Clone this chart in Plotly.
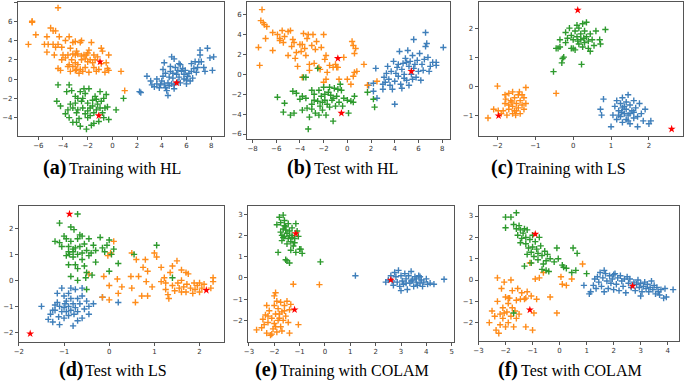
import plotly.graph_objects as go

W, H = 685, 381

# ---------------- data ----------------
# (a) Training with HL
a_orange = [(-4.4,7.4),(-6.5,6.0),(-6.5,5.9),(-6.2,4.6),(-6.8,3.6),(-5.0,5.3),(-4.8,5.0),(-4.6,5.0),(-5.3,4.4),(-4.3,4.4),
            (-5.5,3.6),(-5.2,3.6),(-4.8,3.6),(-4.4,3.6),(-3.5,4.4),(-3.8,4.0),(-4.6,3.3),(-4.1,3.3),(-4.0,2.5),(-5.3,2.8),
            (-4.7,2.5),(-4.4,1.1),(-4.2,0.9),(-3.6,1.3),(-3.4,0.8),(-3.0,3.9),(-3.2,3.8),(-2.5,4.0),(-2.6,3.8),(-1.7,3.8),
            (-3.6,2.5),(-3.2,2.6),(-3.0,2.5),(-2.8,2.6),(-2.5,2.4),(-2.3,2.5),(-2.0,2.7),(-1.9,3.0),(-3.3,2.0),(-3.0,1.7),
            (-2.8,1.5),(-2.5,2.0),(-2.2,2.1),(-2.0,1.8),(-1.8,2.0),(-1.6,1.7),(-1.4,2.0),(-1.2,2.3),(-3.5,1.5),(-3.2,1.3),
            (-2.9,1.0),(-2.6,1.0),(-2.4,0.8),(-2.2,1.2),(-1.9,0.7),(-1.5,1.2),(-1.3,0.8),(-0.9,3.2),(-0.8,2.9),(-0.9,1.6),
            (-0.5,1.7),(-0.4,1.1),(-0.3,0.9),(-0.3,2.5),(-0.6,0.7),(0.7,0.8),(1.0,-1.2),(-3.0,0.9),(-2.7,0.6),(-4.1,2.0),
            (-3.8,2.2),(-2.9,2.9),(-1.5,2.5),(-1.1,1.0),(-2.1,2.5),(-3.4,3.2)]
a_blue = [(2.2,-1.3),(2.3,-1.4),(2.8,0.3),(3.1,-0.2),(3.2,-0.6),(3.4,-0.8),(3.6,-0.5),(3.8,-0.9),(3.9,-0.6),(4.0,-0.2),
          (4.1,0.3),(4.1,1.0),(4.2,1.7),(4.3,0.6),(4.3,-0.9),(4.4,-1.2),(4.5,-1.7),(4.5,-0.4),(4.6,0.2),(4.7,0.8),
          (4.7,1.3),(4.8,-0.5),(4.8,2.3),(4.9,0.1),(5.0,2.1),(5.0,-1.0),(5.1,1.2),(5.2,0.5),(5.3,0.9),(5.3,-0.3),
          (5.4,1.6),(5.4,0.2),(5.5,1.5),(5.5,-0.4),(5.6,0.8),(5.7,1.1),(5.8,0.0),(5.9,0.9),(6.0,-0.1),(6.0,-0.5),
          (6.1,0.3),(6.2,0.6),(6.3,-0.2),(6.4,1.6),(6.4,0.8),(6.5,0.1),(6.6,1.1),(6.7,1.8),(6.8,0.7),(7.0,1.8),
          (7.1,3.0),(7.1,2.5),(7.2,1.8),(7.4,1.2),(7.5,0.8),(7.7,3.2),(7.9,2.2),(8.1,0.9),(8.2,2.3),(5.0,-0.6),
          (4.6,-0.7),(4.2,-0.5),(5.8,0.5),(6.9,1.2),(3.6,0.0),(4.9,0.6)]
a_green = [(-4.4,-0.6),(-4.5,-2.3),(-4.2,-2.8),(-3.5,-0.6),(-3.7,-1.3),(-3.3,-1.2),(-3.8,-3.6),(-3.5,-4.0),(-3.2,-4.5),(-3.0,-1.8),
           (-3.0,-2.5),(-3.2,-3.0),(-2.9,-3.5),(-2.8,-2.0),(-2.7,-4.1),(-2.6,-4.9),(-2.5,-2.3),(-2.4,-3.0),(-2.3,-1.0),(-2.2,-1.5),
           (-2.2,-3.6),(-2.1,-5.2),(-2.0,-2.5),(-2.0,-4.0),(-1.9,-1.0),(-1.8,-3.0),(-1.7,-4.8),(-1.6,-2.2),(-1.5,-3.5),(-1.4,-1.8),
           (-1.3,-3.2),(-1.2,-2.6),(-1.1,-4.4),(-1.0,-3.0),(-0.9,-2.3),(-0.8,-3.5),(-0.7,-2.0),(-0.6,-3.0),(-0.5,-1.6),(-0.4,-2.9),
           (-0.3,-4.2),(0.3,-3.2),(0.9,-2.0),(-1.5,-4.6),(-2.8,-3.2),(-3.4,-2.6),(-2.6,-1.3),(-1.8,-3.8),(-2.4,-2.0),(-1.0,-1.3),
           (-3.6,-3.2),(-2.0,-3.3),(-1.6,-2.8),(-2.9,-4.5),(-0.7,-4.0),(-1.3,-2.1)]
a_red = [(-1.0,1.8),(5.2,-0.4),(-1.1,-3.8)]

# (b) Test with HL
b_orange = [(-7.5,2.7),(-7.4,0.9),(-7.3,5.4),(-7.2,6.5),(-7.1,5.2),(-7.0,5.0),(-6.9,3.6),(-6.8,4.8),(-6.3,4.2),(-6.3,2.4),
            (-5.9,4.0),(-5.7,3.6),(-5.5,4.4),(-5.4,3.2),(-5.3,3.8),(-5.0,4.3),(-5.0,1.9),(-4.8,4.4),(-4.7,2.8),(-4.6,3.5),
            (-4.5,3.2),(-4.4,1.6),(-4.2,0.8),(-4.0,3.0),(-3.9,2.3),(-3.8,3.0),(-3.7,4.1),(-3.6,2.6),(-3.5,1.9),(-3.4,3.6),
            (-3.3,4.0),(-3.2,1.0),(-3.0,2.9),(-2.9,4.0),(-2.8,1.1),(-2.7,2.5),(-2.6,3.3),(-2.4,0.7),(-2.2,2.7),(-2.0,4.0),
            (-1.9,1.5),(-1.8,1.9),(-1.7,0.2),(-1.5,0.9),(-1.2,0.7),(-1.0,1.0),(-0.9,0.7),(-0.8,0.7),(-0.7,-0.5),(-0.3,1.7),
            (0.4,3.3),(0.5,2.9),(0.6,2.1),(0.7,2.6),(0.6,0.2),(0.8,0.3),(0.5,-0.2),(0.3,-1.0),(1.4,1.0),(1.7,-1.1),
            (2.5,-0.7),(-1.8,-0.5),(-3.8,-0.3),(-3.2,0.4),(-2.0,-0.8),(-4.3,2.2),(-5.7,3.4),(-2.3,0.5),(0.0,-0.5)]
b_blue = [(1.8,-1.1),(2.2,-1.7),(2.2,-0.9),(2.4,0.6),(2.5,-2.4),(3.0,-1.5),(3.1,-0.3),(3.2,-0.8),(3.3,0.1),(3.4,0.8),
          (3.5,-0.5),(3.6,-1.1),(3.7,0.3),(3.8,-1.5),(3.9,1.3),(4.0,-0.7),(4.0,-3.0),(4.1,0.1),(4.2,0.7),(4.3,-0.2),
          (4.4,2.3),(4.5,-1.0),(4.6,0.5),(4.7,1.1),(4.8,0.0),(4.9,1.6),(5.0,-0.6),(5.1,2.4),(5.2,0.8),(5.2,-1.1),
          (5.3,1.3),(5.4,0.0),(5.5,1.9),(5.5,-0.5),(5.6,3.5),(5.7,1.0),(5.8,-0.3),(5.9,1.4),(6.0,0.3),(6.1,2.1),
          (6.2,-0.6),(6.3,1.0),(6.4,0.4),(6.5,1.5),(6.6,2.8),(6.6,4.2),(6.7,3.1),(6.8,1.7),(7.0,0.8),(7.2,1.2),
          (7.5,1.2),(7.5,0.9),(8.1,2.7),(4.6,-1.4),(5.0,1.2),(4.3,1.0),(5.6,0.6),(6.9,0.3),(3.0,-1.0),(4.8,-0.4)]
b_green = [(-5.9,-2.3),(-5.4,-3.8),(-5.3,-2.9),(-4.8,-4.1),(-4.6,-1.7),(-4.5,-3.9),(-4.3,-1.9),(-4.0,-2.5),(-3.8,-3.6),(-3.7,-0.3),
           (-3.5,-0.3),(-3.5,-2.4),(-3.4,-3.4),(-3.2,-4.3),(-3.3,-5.5),(-3.0,-1.6),(-3.0,-3.0),(-2.8,-2.0),(-2.7,-3.9),(-2.5,0.6),
           (-2.5,-2.7),(-2.4,-1.6),(-2.3,-3.2),(-2.2,-2.2),(-2.1,-3.6),(-2.0,-1.3),(-1.9,-2.6),(-1.8,-4.1),(-1.7,-3.0),(-1.6,-1.8),
           (-1.5,-3.3),(-1.4,-2.1),(-1.3,-2.6),(-1.2,-4.7),(-1.1,-1.4),(-1.0,-3.2),(-0.9,-2.2),(-0.8,-1.5),(-0.7,-2.8),(-0.6,-1.0),
           (-0.4,-3.2),(-0.3,-2.4),(0.0,-2.6),(0.1,-3.9),(0.3,-2.7),(0.5,-2.8),(0.6,-2.2),(1.7,-1.8),(2.2,-2.5),(2.3,-3.3),
           (-2.8,-2.6),(-1.9,-2.0),(-3.8,-2.2),(-2.1,-2.8),(-1.2,-2.4),(-0.5,-1.6),(-3.0,-3.5),(-2.4,-4.1),(-1.5,-1.3)]
b_red = [(-0.8,1.6),(5.4,0.3),(-0.5,-3.9)]

# (c) Training with LS
c_green = [(-0.52,0.5),(-0.3,0.8),(-0.28,0.95),(-0.25,1.0),(-0.4,1.3),(-0.35,1.35),(-0.45,1.3),(-0.35,1.6),(-0.2,1.5),(-0.2,1.85),
           (-0.1,2.0),(-0.05,1.75),(0.0,1.6),(0.0,1.3),(0.05,1.25),(0.1,2.1),(0.1,1.7),(0.15,2.0),(0.15,1.45),(0.2,1.8),
           (0.2,1.6),(0.22,0.75),(0.25,1.35),(0.25,2.15),(0.3,1.9),(0.3,1.5),(0.35,1.7),(0.35,2.2),(0.4,1.55),(0.4,1.3),
           (0.45,1.8),(0.5,1.6),(0.55,1.4),(0.6,1.9),(0.7,1.6),(0.72,1.45),(0.85,1.95),(0.05,1.9),(-0.15,1.65),(0.12,1.55),
           (0.28,1.65),(-0.05,1.3),(0.45,1.2)]
c_orange = [(-2.25,-1.1),(-2.1,-0.8),(-2.0,0.0),(-1.98,-0.85),(-1.9,-0.95),(-1.8,-0.3),(-1.8,-0.6),(-1.75,-1.0),(-1.7,-0.25),(-1.7,-0.8),
            (-1.65,-0.5),(-1.6,-0.2),(-1.6,-0.7),(-1.6,-0.95),(-1.55,-0.4),(-1.55,-0.85),(-1.5,-0.6),(-1.45,-0.3),(-1.45,-0.75),(-1.4,-0.5),
            (-1.4,-0.95),(-1.35,-0.65),(-1.3,-0.4),(-1.3,-0.8),(-1.25,-0.05),(-1.25,-0.6),(-1.7,-0.65),(-1.5,-0.85),(-1.62,-0.55),(-1.78,-0.45),
            (-1.42,-0.2),(-1.52,-1.0),(-0.45,-0.25),(-1.85,-0.85),(-1.35,-0.3)]
c_blue = [(0.72,-0.8),(0.75,-1.0),(0.8,-0.45),(1.0,-1.4),(1.05,-1.0),(1.1,-0.7),(1.15,-0.5),(1.15,-1.15),(1.2,-0.85),(1.25,-0.6),
          (1.25,-1.05),(1.3,-0.4),(1.3,-0.75),(1.3,-1.25),(1.35,-0.95),(1.4,-0.55),(1.4,-0.8),(1.4,-1.15),(1.45,-0.3),(1.45,-1.0),
          (1.5,-0.65),(1.5,-1.3),(1.55,-0.85),(1.6,-0.5),(1.6,-1.1),(1.65,-0.75),(1.7,-1.4),(1.75,-0.6),(1.8,-0.95),(1.85,-1.2),
          (1.9,-0.8),(2.0,-1.3),(2.05,-1.2),(1.35,-0.7),(1.5,-0.95),(1.2,-1.0),(1.6,-0.9),(1.45,-1.2),(1.28,-0.9),(1.7,-1.05)]
c_red = [(0.12,2.62),(-1.97,-1.02),(2.6,-1.48)]

# (d) Test with LS
d_green = [(-0.7,2.55),(-1.1,2.2),(-1.0,1.7),(-1.2,1.5),(-1.1,1.45),(-0.95,1.6),(-0.9,1.3),(-0.9,1.1),(-0.85,2.05),(-0.85,1.5),
           (-0.8,1.2),(-0.8,0.9),(-0.78,1.95),(-0.75,1.25),(-0.75,0.6),(-0.7,1.6),(-0.7,1.0),(-0.7,0.45),(-0.65,1.75),(-0.65,1.3),
           (-0.6,0.8),(-0.6,1.7),(-0.55,1.4),(-0.55,0.55),(-0.5,1.15),(-0.5,0.3),(-0.45,1.6),(-0.45,0.95),(-0.4,1.05),(-0.35,1.35),
           (-0.3,0.7),(-0.2,1.65),(-0.15,1.25),(-0.1,1.1),(-0.05,1.35),(0.0,1.55),(0.05,1.0),(0.1,1.2),(0.0,0.35),(0.2,0.65),
           (-0.85,0.15),(-0.95,0.95),(-0.9,0.6),(-1.05,1.3),(-0.8,1.1),(-0.5,-0.35),(0.55,1.0),(1.05,1.35),(1.4,0.1),(-0.88,1.0),
           (-0.6,1.05),(-0.3,1.15),(-0.52,0.1),(-0.38,0.2),(-0.7,0.0)]
d_blue = [(-1.5,-1.0),(-1.35,-1.5),(-1.3,-1.3),(-1.25,-1.6),(-1.2,-1.15),(-1.15,-0.5),(-1.15,-0.85),(-1.12,-1.4),(-1.1,-1.0),(-1.05,-0.3),
          (-1.05,-1.2),(-1.0,-0.6),(-1.0,-1.05),(-1.0,-1.45),(-0.95,-0.8),(-0.95,-1.2),(-0.9,-1.0),(-0.9,-1.35),(-0.85,-0.3),(-0.85,-0.7),
          (-0.85,-1.15),(-0.8,-0.9),(-0.8,-1.75),(-0.78,-1.3),(-0.75,-0.35),(-0.75,-1.05),(-0.7,-0.7),(-0.7,-1.2),(-0.65,-0.9),(-0.6,-1.45),
          (-0.6,-0.6),(-0.55,-1.1),(-0.5,-0.8),(-0.45,-1.0),(-0.45,-1.3),(-0.35,-0.9),(-1.1,-1.7),(-1.2,-0.95),(-0.9,-0.5),(-0.6,-0.3),
          (-0.7,-1.55),(0.2,-0.85),(-0.15,-0.65),(-1.25,-1.15),(-0.98,-0.9)]
d_orange = [(-0.45,0.25),(-0.12,0.15),(-0.15,-0.65),(0.0,-0.2),(0.0,-0.75),(-0.03,0.95),(0.03,1.05),(0.1,1.5),(0.18,0.05),(0.2,-0.5),
            (0.28,-0.25),(0.48,0.15),(0.5,1.05),(0.5,-0.3),(0.58,-0.85),(0.6,0.8),(0.65,0.15),(0.72,-0.6),(0.75,0.5),(0.8,0.8),
            (0.82,-0.05),(0.85,-0.6),(0.85,0.35),(0.95,-0.25),(1.0,1.05),(1.05,0.9),(1.15,0.5),(1.22,0.1),(1.25,-0.35),(1.3,-0.55),
            (1.32,-0.7),(1.35,0.3),(1.4,0.55),(1.4,-0.2),(1.45,-0.4),(1.5,0.75),(1.52,-0.1),(1.55,-0.3),(1.6,0.0),(1.6,0.4),
            (1.65,-0.25),(1.7,-0.45),(1.72,-0.15),(1.75,0.25),(1.8,-0.3),(1.85,-0.5),(1.88,-0.1),(1.9,-0.35),(1.95,-0.2),(2.0,-0.45),
            (2.05,-0.3),(2.1,-0.15),(2.25,-0.3),(2.3,0.1),(2.3,-0.05),(1.7,0.3),(1.6,-0.45),(1.25,-0.1),(1.15,-0.05),(2.0,-0.1)]
d_red = [(-0.88,2.55),(-1.75,-2.05),(2.15,-0.38)]

# (e) Training with COLAM
e_green = [(-1.9,2.5),(-1.8,2.85),(-1.75,2.6),(-1.7,2.0),(-1.7,1.75),(-1.65,2.95),(-1.65,2.3),(-1.6,2.7),(-1.6,1.95),(-1.55,2.4),
           (-1.5,2.1),(-1.5,1.6),(-1.5,0.8),(-1.45,2.55),(-1.45,1.85),(-1.4,2.2),(-1.4,0.7),(-1.35,1.7),(-1.3,2.0),(-1.3,2.35),
           (-1.25,1.5),(-1.2,1.85),(-1.15,2.55),(-1.15,1.2),(-1.1,2.2),(-1.05,1.95),(-1.0,1.35),(-0.95,1.35),(-0.9,1.15),(-1.85,1.2),
           (-1.55,0.85),(-1.75,2.15),(-1.6,2.45),(-1.4,2.0),(-1.35,1.3),(-1.2,1.65),(-1.55,2.25),(-0.18,0.75),(-1.65,1.9),(-1.3,1.9)]
e_orange = [(-2.7,-2.45),(-2.5,-2.35),(-2.45,-1.95),(-2.35,-1.75),(-2.3,-1.3),(-2.3,-2.6),(-2.25,-2.1),(-2.2,-1.55),(-2.15,-2.7),(-2.1,-1.9),
            (-2.05,-2.4),(-2.0,-1.3),(-2.0,-2.15),(-1.95,-0.7),(-1.95,-1.7),(-1.9,-2.55),(-1.85,-1.45),(-1.85,-2.0),(-1.8,-1.9),(-1.75,-1.15),
            (-1.75,-2.3),(-1.7,-1.6),(-1.65,-2.0),(-1.6,-1.3),(-1.55,-1.8),(-1.5,-1.1),(-1.45,-2.1),(-1.4,-1.5),(-1.4,-2.6),(-1.35,-1.25),
            (-1.05,-2.2),(-2.1,-2.65),(-1.95,-2.3),(-2.25,-1.8),(-1.6,-1.55),(-1.8,-1.7),(-2.0,-0.85),(-1.25,-0.3),(-0.22,-0.32),(-2.4,-2.2),
            (-1.7,-2.5),(-1.9,-1.1)]
e_blue = [(1.2,0.1),(2.4,-0.2),(2.5,-0.1),(2.6,0.1),(2.7,-0.35),(2.75,0.25),(2.8,0.05),(2.85,-0.2),(2.9,0.35),(2.95,-0.4),
          (3.0,0.1),(3.05,-0.15),(3.1,-0.3),(3.15,0.2),(3.2,-0.05),(3.25,-0.55),(3.3,0.1),(3.35,-0.25),(3.4,0.3),(3.45,-0.1),
          (3.5,-0.4),(3.55,0.05),(3.6,-0.2),(3.65,-0.35),(3.7,0.1),(3.75,-0.25),(3.8,-0.1),(3.85,-0.4),(3.9,-0.2),(4.0,-0.05),
          (4.05,-0.3),(4.15,-0.25),(4.3,-0.3),(4.7,-0.07),(3.0,-0.6),(3.4,-0.15),(3.6,-0.05),(3.2,-0.25),(2.65,-0.15),(3.75,0.05)]
e_red = [(-1.15,2.08),(2.6,-0.1),(-1.2,-1.5)]

# (f) Test with COLAM
f_green = [(-2.0,2.95),(-2.0,2.45),(-1.8,2.95),(-1.7,2.6),(-1.6,3.15),(-1.6,2.4),(-1.55,2.1),(-1.5,2.55),(-1.45,2.35),(-1.4,1.95),
           (-1.35,2.2),(-1.3,2.4),(-1.25,1.7),(-1.25,2.0),(-1.2,2.35),(-1.15,1.5),(-1.1,1.9),(-1.05,1.3),(-1.0,2.1),(-1.0,1.55),
           (-0.95,1.1),(-0.9,1.8),(-0.85,1.45),(-0.8,0.95),(-0.8,1.25),(-0.75,2.0),(-0.7,1.6),(-0.65,1.15),(-0.6,0.75),(-0.55,1.35),
           (-0.5,0.9),(-0.45,1.2),(-0.4,0.4),(-0.35,1.0),(-0.2,0.85),(-0.1,1.5),(-0.05,1.0),(0.1,0.7),(0.15,0.6),(0.25,0.55),
           (0.45,0.35),(0.5,1.5),(0.6,0.45),(0.65,1.25),(1.0,0.3),(-1.3,0.65),(-1.05,0.8),(-0.65,0.5),(-1.7,-1.55),(-0.5,0.45),
           (-1.45,1.75),(-1.2,1.2)]
f_orange = [(-2.6,-2.0),(-2.5,-1.45),(-2.4,-1.7),(-2.35,-2.35),(-2.3,0.1),(-2.3,-1.0),(-2.25,-2.5),(-2.2,-1.6),(-2.2,-2.1),(-2.15,-0.4),
            (-2.1,-1.3),(-2.1,-1.8),(-2.05,-0.1),(-2.0,-0.8),(-2.0,-2.2),(-1.95,-1.5),(-1.9,-1.1),(-1.9,-2.0),(-1.85,-0.85),(-1.8,-1.7),
            (-1.75,-0.5),(-1.75,-1.3),(-1.7,-2.2),(-1.65,-1.45),(-1.6,-0.95),(-1.55,-0.4),(-1.5,-1.6),(-1.45,-0.9),(-1.4,-0.6),(-1.3,-0.9),
            (-1.25,-2.2),(-1.2,-0.55),(-1.1,0.8),(-1.05,-0.75),(-1.0,-2.35),(-0.95,-1.55),(-0.9,0.05),(-0.85,-0.9),(-0.75,0.1),(-0.6,0.35),
            (-0.35,-0.8),(-0.1,-1.55),(0.05,0.15),(0.1,-0.2),(0.25,-0.25),(0.45,0.05),(0.85,0.75),(-1.8,0.0),(-1.6,-1.8),(-1.25,-0.85),
            (-2.05,-1.55),(-1.9,-0.85)]
f_blue = [(0.9,-0.25),(1.1,-0.65),(1.15,-0.55),(1.25,-0.25),(1.3,0.05),(1.35,-0.4),(1.4,0.15),(1.45,-0.1),(1.5,0.35),(1.55,-0.3),
          (1.6,0.1),(1.65,-0.55),(1.7,0.3),(1.75,-0.05),(1.8,-0.4),(1.85,0.2),(1.9,-0.15),(1.95,0.05),(2.0,-0.45),(2.05,0.3),
          (2.1,-0.2),(2.15,0.1),(2.2,-0.5),(2.25,0.2),(2.3,-0.05),(2.35,-0.3),(2.4,0.05),(2.45,-0.6),(2.5,0.15),(2.55,-0.15),
          (2.6,0.05),(2.65,-0.35),(2.75,-0.1),(2.8,-0.5),(2.85,-0.2),(2.9,0.0),(2.95,-0.35),(3.0,-0.15),(3.05,-0.55),(3.1,-0.3),
          (3.15,-0.1),(3.2,-0.4),(3.25,-0.2),(3.3,-0.55),(3.35,-0.35),(3.4,-0.05),(3.45,-0.45),(3.5,-0.25),(3.55,-0.65),(3.6,-0.35),
          (3.65,-0.55),(3.7,-0.7),(3.75,-0.45),(3.85,-0.85),(3.9,-0.4),(3.95,-0.8),(4.2,-0.45),(1.65,0.45),(2.0,0.25),(3.0,-0.75)]
f_red = [(-0.9,2.15),(2.7,-0.28),(-1.1,-1.4)]

cap_labels = ["(a)", "(b)", "(c)", "(d)", "(e)", "(f)"]
cap_texts = ["Training with HL", "Test with HL", "Training with LS",
             "Test with LS", "Training with COLAM", "Test with COLAM"]

x_ranges = [(-7.65, 9.07), (-8.45, 8.64), (-2.5, 2.9), (-2.0, 2.55), (-3.03, 5.08), (-3.0, 4.42)]
y_ranges = [(-5.91, 8.0), (-6.5, 7.27), (-1.72, 2.9), (-2.37, 2.86), (-3.02, 3.38), (-2.86, 3.47)]
x_ticks = [[-6, -4, -2, 0, 2, 4, 6, 8], [-8, -6, -4, -2, 0, 2, 4, 6, 8], [-2, -1, 0, 1, 2],
           [-2, -1, 0, 1, 2], [-3, -2, -1, 0, 1, 2, 3, 4, 5], [-3, -2, -1, 0, 1, 2, 3, 4]]
y_ticks = [[-4, -2, 0, 2, 4, 6, 8], [-6, -4, -2, 0, 2, 4, 6], [-1, 0, 1, 2],
           [-2, -1, 0, 1, 2], [-2, -1, 0, 1, 2, 3], [-2, -1, 0, 1, 2, 3]]

BLUE, ORANGE, GREEN = "#3f7fba", "#ff8c1a", "#2e9a2e"
panels = [
    [(a_blue, BLUE), (a_orange, ORANGE), (a_green, GREEN), (a_red, "red")],
    [(b_blue, BLUE), (b_orange, ORANGE), (b_green, GREEN), (b_red, "red")],
    [(c_blue, BLUE), (c_orange, ORANGE), (c_green, GREEN), (c_red, "red")],
    [(d_blue, BLUE), (d_orange, ORANGE), (d_green, GREEN), (d_red, "red")],
    [(e_blue, BLUE), (e_orange, ORANGE), (e_green, GREEN), (e_red, "red")],
    [(f_blue, BLUE), (f_orange, ORANGE), (f_green, GREEN), (f_red, "red")],
]

# ---------------- layout (pixel boxes of plot frames) ----------------
frames = [(13, 221, 2, 136), (244, 448, 2, 139), (477, 683, 2, 136),
          (14, 221, 206, 342), (245, 452, 206, 342), (477, 679, 206, 341)]
# caption left edge, label width (bold 20px), vertical centre
cap_left = [37, 283, 489, 53, 251, 496]
lab_w = [23, 24, 22, 24, 22, 20]
cap_y = [168, 168, 168, 370, 370, 370]

fig = go.Figure()
layout = dict(width=W, height=H, margin=dict(l=0, r=0, t=0, b=0),
              paper_bgcolor="white", plot_bgcolor="white", showlegend=False)

for i, (groups, fr) in enumerate(zip(panels, frames)):
    n = "" if i == 0 else str(i + 1)
    xa, ya = "x" + n, "y" + n
    for pts, col in groups:
        xs = [p[0] for p in pts]
        ys = [p[1] for p in pts]
        if col == "red":
            mk = dict(symbol="star", size=6, color="red", line=dict(width=0))
        else:
            mk = dict(symbol="cross-thin", size=4.5, color=col, line=dict(width=1.4, color=col))
        fig.add_trace(go.Scatter(x=xs, y=ys, mode="markers", marker=mk, xaxis=xa, yaxis=ya,
                                 hoverinfo="skip"))
    l, r, t, b = fr
    ax_common = dict(showgrid=False, zeroline=False, showline=True, mirror=True,
                     linecolor="#555555", linewidth=1, ticks="outside", ticklen=3,
                     tickcolor="#555555", tickfont=dict(family="DejaVu Sans", size=7, color="#333333"))
    layout["xaxis" + n] = dict(domain=[l / W, r / W], range=list(x_ranges[i]), tickvals=x_ticks[i],
                               anchor=ya, **ax_common)
    layout["yaxis" + n] = dict(domain=[1 - b / H, 1 - t / H], range=list(y_ranges[i]), tickvals=y_ticks[i],
                               anchor=xa, **ax_common)

annotations = []
for lab, txt, x0, lw, cy in zip(cap_labels, cap_texts, cap_left, lab_w, cap_y):
    annotations.append(dict(text="<b>" + lab + "</b>", x=x0 / W, y=1 - (cy - 0.5) / H,
                            xref="paper", yref="paper", xanchor="left", yanchor="middle",
                            showarrow=False, borderpad=0,
                            font=dict(family="Liberation Serif", size=20, color="black")))
    annotations.append(dict(text=txt, x=(x0 + lw + 3) / W, y=1 - (cy + 0.5) / H,
                            xref="paper", yref="paper", xanchor="left", yanchor="middle",
                            showarrow=False, borderpad=0,
                            font=dict(family="Liberation Serif", size=16, color="black")))
layout["annotations"] = annotations
fig.update_layout(**layout)
fig.write_html("out.html", config={"displayModeBar": False},
               post_script="document.body.style.margin='0';document.body.style.overflow='hidden';")
